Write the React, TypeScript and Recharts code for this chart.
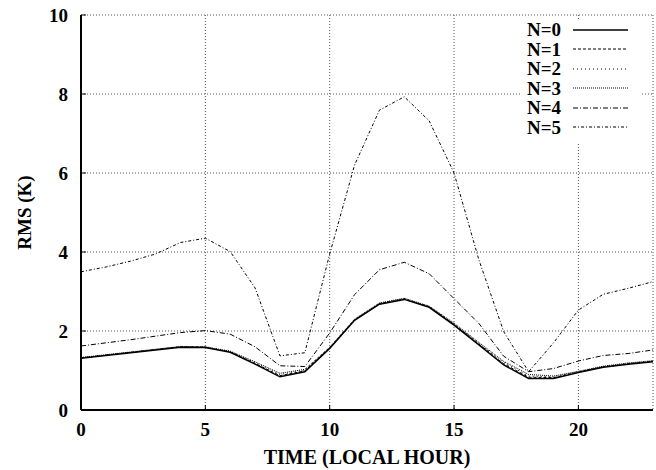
import { LineChart, Line, XAxis, YAxis, CartesianGrid, Legend } from "recharts";

const SERIF = '"Liberation Serif", "Times New Roman", serif';

// local hour of day
const HOURS = [0, 1, 2, 3, 4, 5, 6, 7, 8, 9, 10, 11, 12, 13, 14, 15, 16, 17, 18, 19, 20, 21, 22, 23];

// RMS (K) per hour for each N
const N0 = [1.31, 1.38, 1.45, 1.52, 1.59, 1.58, 1.46, 1.16, 0.84, 0.97, 1.56, 2.27, 2.68, 2.8, 2.6, 2.15, 1.65, 1.14, 0.8, 0.8, 0.95, 1.08, 1.16, 1.22];
const N1 = [1.32, 1.39, 1.46, 1.53, 1.6, 1.59, 1.47, 1.18, 0.87, 0.99, 1.57, 2.28, 2.69, 2.81, 2.61, 2.17, 1.67, 1.17, 0.83, 0.82, 0.96, 1.09, 1.17, 1.23];
const N2 = [1.32, 1.39, 1.46, 1.53, 1.6, 1.59, 1.48, 1.2, 0.9, 1.01, 1.58, 2.29, 2.7, 2.82, 2.62, 2.18, 1.69, 1.2, 0.86, 0.84, 0.97, 1.1, 1.18, 1.24];
const N3 = [1.33, 1.4, 1.47, 1.54, 1.61, 1.6, 1.49, 1.22, 0.93, 1.03, 1.59, 2.3, 2.71, 2.83, 2.63, 2.2, 1.71, 1.23, 0.9, 0.86, 0.98, 1.11, 1.19, 1.25];
const N4 = [1.62, 1.7, 1.78, 1.87, 1.96, 2.01, 1.92, 1.6, 1.12, 1.1, 1.95, 2.92, 3.55, 3.74, 3.45, 2.82, 2.19, 1.36, 0.97, 1.05, 1.24, 1.38, 1.43, 1.52];
const N5 = [3.5, 3.62, 3.77, 3.95, 4.24, 4.35, 4.01, 3.09, 1.37, 1.45, 3.95, 6.2, 7.59, 7.93, 7.32, 6.0, 3.8, 1.98, 0.97, 1.7, 2.53, 2.93, 3.08, 3.25];

const X_TICKS = [0, 5, 10, 15, 20];
const Y_TICKS = [0, 2, 4, 6, 8, 10];

const SERIES = [
  { key: "n0", name: "N=0", values: N0, dash: undefined, width: 1.5 },
  { key: "n1", name: "N=1", values: N1, dash: "3 2", width: 1 },
  { key: "n2", name: "N=2", values: N2, dash: "1 3", width: 1 },
  { key: "n3", name: "N=3", values: N3, dash: "1 1", width: 1 },
  { key: "n4", name: "N=4", values: N4, dash: "5 2 1 2", width: 1 },
  { key: "n5", name: "N=5", values: N5, dash: "3 2 1 2", width: 1 },
];

const data = HOURS.map((h, i) => {
  const row: Record<string, number> = { hour: h };
  SERIES.forEach(s => { row[s.key] = s.values[i]; });
  return row;
});

const tickFont = { fill: "#000", fontSize: 19, fontWeight: "bold", fontFamily: SERIF };

function KeyBox() {
  return (
    <div style={{ background: "#fff", padding: "0px 12px 6px 2px" }}>
      {SERIES.map(s => (
        <div
          key={s.key}
          style={{ display: "flex", alignItems: "center", justifyContent: "flex-end", height: 19.5 }}
        >
          <span style={{ font: `bold 19px ${SERIF}`, color: "#000", lineHeight: "19px" }}>{s.name}</span>
          <svg width={55} height={6} style={{ marginLeft: 12 }}>
            <line x1={0} y1={3} x2={55} y2={3} stroke="#000" strokeWidth={s.width} strokeDasharray={s.dash} />
          </svg>
        </div>
      ))}
    </div>
  );
}

function YTitle({ viewBox }: any) {
  const cx = viewBox.x + 24;
  const cy = viewBox.y + viewBox.height / 2;
  return (
    <text
      x={cx}
      y={cy}
      transform={`rotate(-90, ${cx}, ${cy})`}
      textAnchor="middle"
      dominantBaseline="central"
      style={{ font: `bold 19px ${SERIF}`, fill: "#000" }}
    >
      RMS (K)
    </text>
  );
}

export default function App() {
  const axisLine = { stroke: "#000", strokeWidth: 2 };
  return (
    <div style={{ position: "absolute", left: 0, top: 0, background: "#fff" }}>
      <LineChart width={656} height={470} data={data} margin={{ top: 15, right: 3, left: 0, bottom: 0 }}>
        <CartesianGrid stroke="#555" strokeDasharray="1 2" />
        <XAxis
          dataKey="hour"
          type="number"
          domain={[0, 23]}
          ticks={X_TICKS}
          height={60}
          tickSize={-5}
          tickMargin={18}
          axisLine={axisLine}
          tickLine={{ stroke: "#000" }}
          tick={tickFont}
          label={{
            value: "TIME (LOCAL HOUR)",
            position: "insideBottom",
            offset: 6,
            style: { font: `bold 20px ${SERIF}`, fill: "#000" },
          }}
        />
        <XAxis
          xAxisId="top"
          orientation="top"
          type="number"
          domain={[0, 23]}
          ticks={X_TICKS}
          height={0}
          tickSize={-5}
          tick={false}
          axisLine={axisLine}
          tickLine={{ stroke: "#000" }}
        />
        <YAxis
          type="number"
          domain={[0, 10]}
          ticks={Y_TICKS}
          width={81}
          tickSize={-5}
          tickMargin={18}
          axisLine={axisLine}
          tickLine={{ stroke: "#000" }}
          tick={tickFont}
          label={{ content: YTitle }}
        />
        <YAxis
          yAxisId="right"
          orientation="right"
          type="number"
          domain={[0, 10]}
          ticks={Y_TICKS}
          width={0}
          tickSize={-5}
          tick={false}
          axisLine={axisLine}
          tickLine={{ stroke: "#000" }}
        />
        <Legend
          layout="vertical"
          align="center"
          verticalAlign="middle"
          content={<KeyBox />}
          wrapperStyle={{ top: 20, left: 520, width: 120 }}
        />
        {SERIES.map(s => (
          <Line
            key={s.key}
            dataKey={s.key}
            name={s.name}
            type="linear"
            stroke="#000"
            strokeWidth={s.width}
            strokeDasharray={s.dash}
            dot={false}
            isAnimationActive={false}
          />
        ))}
      </LineChart>
    </div>
  );
}
